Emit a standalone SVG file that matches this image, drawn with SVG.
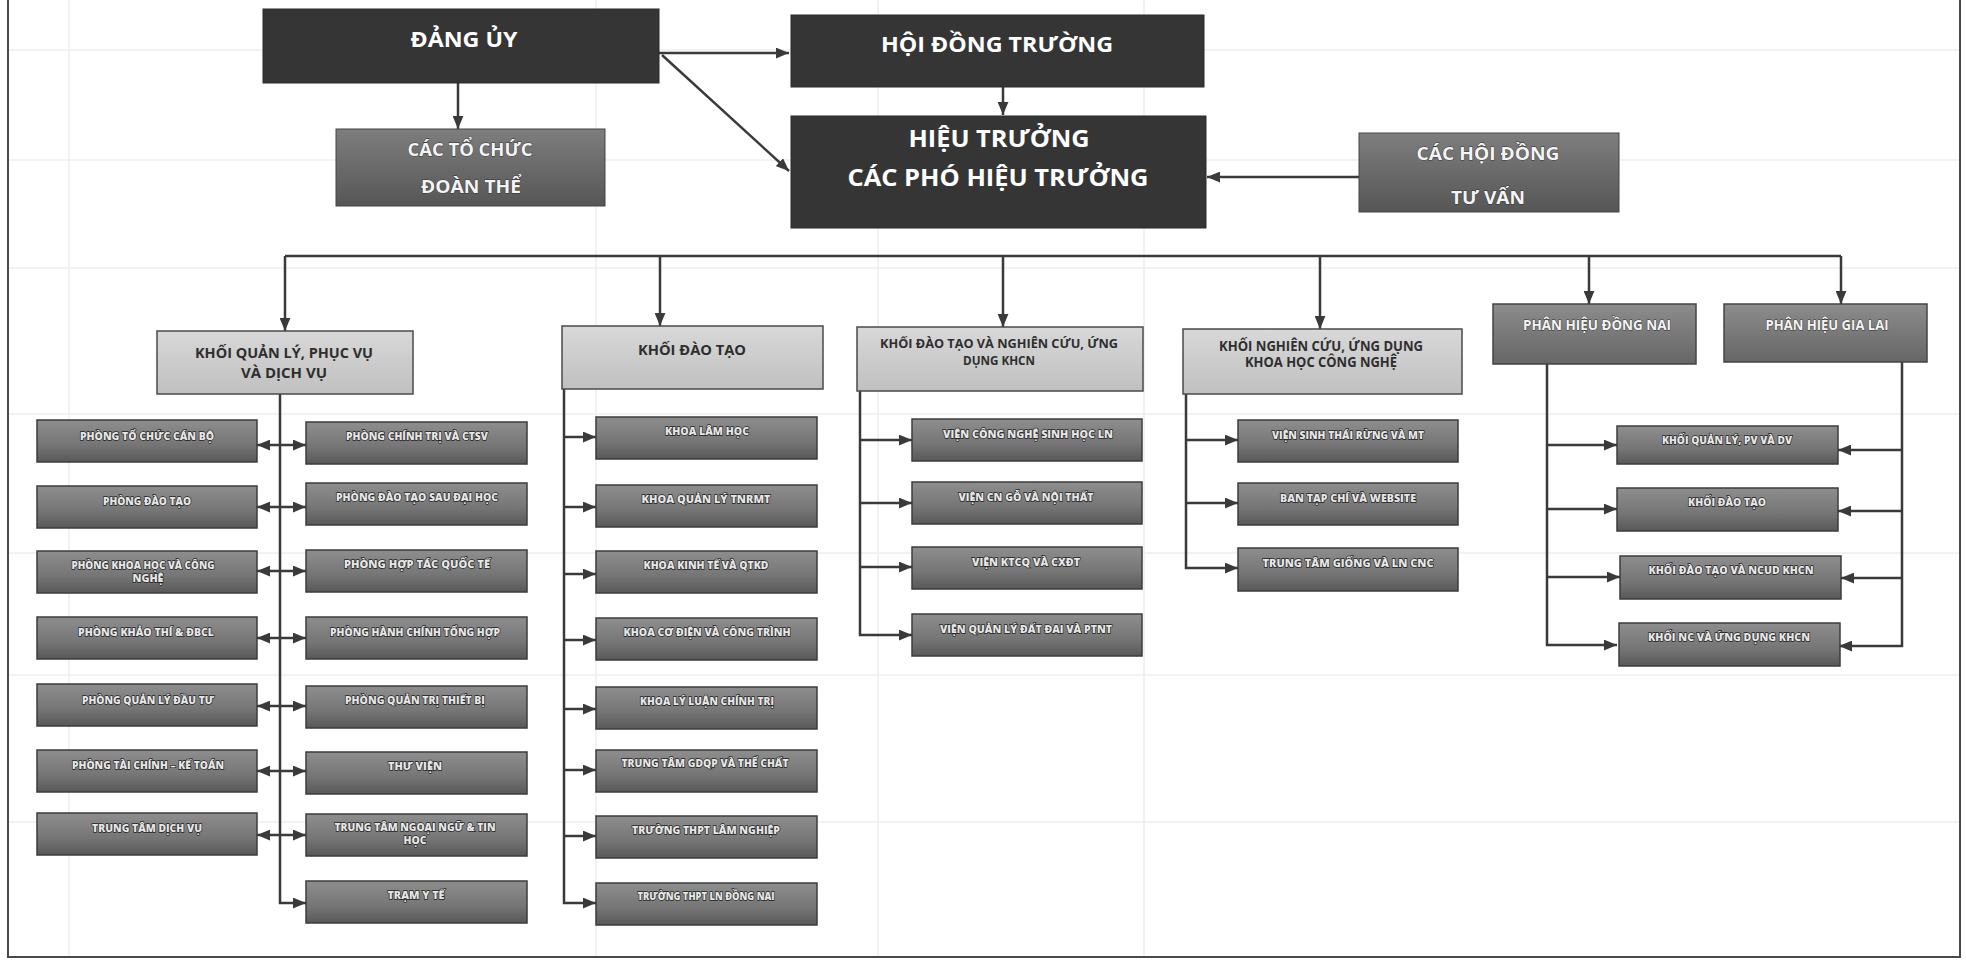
<svg xmlns="http://www.w3.org/2000/svg" width="1966" height="962" viewBox="0 0 1966 962">
<defs>
<linearGradient id="gSm" x1="0" y1="0" x2="0" y2="1"><stop offset="0" stop-color="#8e8e8e"/><stop offset="0.6" stop-color="#757575"/><stop offset="1" stop-color="#585858"/></linearGradient>
<linearGradient id="gMid" x1="0" y1="0" x2="0" y2="1"><stop offset="0" stop-color="#7e7e7e"/><stop offset="1" stop-color="#565656"/></linearGradient>
<linearGradient id="gHdr" x1="0" y1="0" x2="0" y2="1"><stop offset="0" stop-color="#d8d8d8"/><stop offset="1" stop-color="#c0c0c0"/></linearGradient>
<linearGradient id="gPh" x1="0" y1="0" x2="0" y2="1"><stop offset="0" stop-color="#8c8c8c"/><stop offset="1" stop-color="#666666"/></linearGradient>
<marker id="ah" viewBox="0 0 12 10" refX="12" refY="5" markerWidth="13" markerHeight="11" markerUnits="userSpaceOnUse" orient="auto-start-reverse"><path d="M0,0 L12,5 L0,10 z" fill="#3a3a3a"/></marker>
</defs>
<style>
text{font-family:"Open Sans","Noto Sans","Liberation Sans",sans-serif;font-weight:700;text-anchor:middle}
.dk{fill:#353535;stroke:#2a2a2a;stroke-width:1}
.md{fill:url(#gMid);stroke:#444;stroke-width:1}
.hd{fill:url(#gHdr);stroke:#4a4a4a;stroke-width:1.5}
.ph{fill:url(#gPh);stroke:#444;stroke-width:1.5}
.sm{fill:url(#gSm);stroke:#3c3c3c;stroke-width:1.5}
.tw{fill:#ffffff}
.tm{fill:#f4f4f4;stroke:#333;stroke-width:0.8;paint-order:stroke}
.th{fill:#2e2e2e}
.ts{fill:#e6e6e6;stroke:#222;stroke-width:1.4;paint-order:stroke;font-size:11px;font-weight:800}
.c{fill:none;stroke:#3a3a3a;stroke-width:2.5}
.a{marker-end:url(#ah)}
.aa{marker-start:url(#ah);marker-end:url(#ah)}
.bg{stroke:#eeeeee;stroke-width:1.5;fill:none}
.fr{stroke:#4a4a4a;stroke-width:2;fill:none}
</style>
<rect x="0" y="0" width="1966" height="962" fill="#ffffff"/>
<g id="background">
<path class="bg" d="M69,0 V957 M596,0 V957 M878,0 V957 M1144,0 V957 M8,50 H1960 M8,160 H1960 M8,268 H1960 M8,414 H1960 M8,553 H1960 M8,675 H1960 M8,822 H1960"/>
<path class="fr" d="M8,0 V957 H1960 V0"/>
</g>
<g id="connectors">
<path class="c a" d="M659,53 H789"/>
<path class="c a" d="M662,55 L789,171"/>
<path class="c a" d="M458,83 V129"/>
<path class="c a" d="M1003,87 V115"/>
<path class="c a" d="M1359,177 H1207"/>
<path class="c" d="M285,256 H1841"/>
<path class="c a" d="M285,256 V331"/>
<path class="c a" d="M660,256 V326"/>
<path class="c a" d="M1003,256 V327"/>
<path class="c a" d="M1320,256 V329"/>
<path class="c a" d="M1589,256 V304"/>
<path class="c a" d="M1841,256 V304"/>
<path class="c a" d="M280,394 V903 H306"/>
<path class="c aa" d="M257,445 H306"/>
<path class="c aa" d="M257,507 H306"/>
<path class="c aa" d="M257,571 H306"/>
<path class="c aa" d="M257,638 H306"/>
<path class="c aa" d="M257,706 H306"/>
<path class="c aa" d="M257,771 H306"/>
<path class="c aa" d="M257,835 H306"/>
<path class="c a" d="M564,389 V903 H596"/>
<path class="c a" d="M564,437 H596"/>
<path class="c a" d="M564,507 H596"/>
<path class="c a" d="M564,574 H596"/>
<path class="c a" d="M564,640 H596"/>
<path class="c a" d="M564,709 H596"/>
<path class="c a" d="M564,770 H596"/>
<path class="c a" d="M564,836 H596"/>
<path class="c a" d="M860,391 V635 H912"/>
<path class="c a" d="M860,440 H912"/>
<path class="c a" d="M860,503 H912"/>
<path class="c a" d="M860,567 H912"/>
<path class="c a" d="M1186,394 V568 H1238"/>
<path class="c a" d="M1186,440 H1238"/>
<path class="c a" d="M1186,503 H1238"/>
<path class="c a" d="M1547,364 V645 H1617"/>
<path class="c a" d="M1547,445 H1617"/>
<path class="c a" d="M1547,509 H1617"/>
<path class="c a" d="M1547,577 H1620"/>
<path class="c a" d="M1902,362 V646 H1839"/>
<path class="c a" d="M1902,450 H1838"/>
<path class="c a" d="M1902,511 H1838"/>
<path class="c a" d="M1902,578 H1841"/>
</g>
<g id="n-dang-uy"><rect class="dk" x="263" y="9" width="396" height="74"/><text class="tw" x="464" y="47" font-size="22" textLength="107" lengthAdjust="spacingAndGlyphs">ĐẢNG ỦY</text></g>
<g id="n-hoi-dong-truong"><rect class="dk" x="791" y="15" width="413" height="72"/><text class="tw" x="997" y="52" font-size="22" textLength="232" lengthAdjust="spacingAndGlyphs">HỘI ĐỒNG TRƯỜNG</text></g>
<g id="n-hieu-truong"><rect class="dk" x="791" y="116" width="415" height="112"/><text class="tw" x="999" y="147" font-size="24" textLength="181" lengthAdjust="spacingAndGlyphs">HIỆU TRƯỞNG</text><text class="tw" x="998" y="186" font-size="24" textLength="301" lengthAdjust="spacingAndGlyphs">CÁC PHÓ HIỆU TRƯỞNG</text></g>
<g id="n-to-chuc"><rect class="md" x="336" y="129" width="269" height="77"/><text class="tm" x="470" y="156" font-size="17" textLength="125" lengthAdjust="spacingAndGlyphs">CÁC TỔ CHỨC</text><text class="tm" x="471" y="193" font-size="17" textLength="100" lengthAdjust="spacingAndGlyphs">ĐOÀN THỂ</text></g>
<g id="n-hoi-dong-tu-van"><rect class="md" x="1359" y="133" width="260" height="79"/><text class="tm" x="1488" y="160" font-size="17" textLength="143" lengthAdjust="spacingAndGlyphs">CÁC HỘI ĐỒNG</text><text class="tm" x="1488" y="204" font-size="17" textLength="74" lengthAdjust="spacingAndGlyphs">TƯ VẤN</text></g>
<g id="n-khoi-ql"><rect class="hd" x="157" y="331" width="256" height="63"/><text class="th" x="284" y="358" font-size="14" textLength="178" lengthAdjust="spacingAndGlyphs">KHỐI QUẢN LÝ, PHỤC VỤ</text><text class="th" x="284" y="378" font-size="14" textLength="86" lengthAdjust="spacingAndGlyphs">VÀ DỊCH VỤ</text></g>
<g id="n-khoi-dt"><rect class="hd" x="562" y="326" width="261" height="63"/><text class="th" x="692" y="355" font-size="15" textLength="108" lengthAdjust="spacingAndGlyphs">KHỐI ĐÀO TẠO</text></g>
<g id="n-khoi-dtnc"><rect class="hd" x="857" y="327" width="286" height="64"/><text class="th" x="999" y="348" font-size="13" textLength="238" lengthAdjust="spacingAndGlyphs">KHỐI ĐÀO TẠO VÀ NGHIÊN CỨU, ỨNG</text><text class="th" x="999" y="365" font-size="13" textLength="72" lengthAdjust="spacingAndGlyphs">DỤNG KHCN</text></g>
<g id="n-khoi-nc"><rect class="hd" x="1183" y="329" width="279" height="65"/><text class="th" x="1321" y="351" font-size="13.5" textLength="204" lengthAdjust="spacingAndGlyphs">KHỐI NGHIÊN CỨU, ỨNG DỤNG</text><text class="th" x="1321" y="367" font-size="13.5" textLength="152" lengthAdjust="spacingAndGlyphs">KHOA HỌC CÔNG NGHỆ</text></g>
<g id="n-ph-dong-nai"><rect class="ph" x="1493" y="304" width="203" height="60"/><text class="tm" x="1597" y="330" font-size="13.5" textLength="148" lengthAdjust="spacingAndGlyphs">PHÂN HIỆU ĐỒNG NAI</text></g>
<g id="n-ph-gia-lai"><rect class="ph" x="1724" y="304" width="203" height="58"/><text class="tm" x="1827" y="330" font-size="13.5" textLength="123" lengthAdjust="spacingAndGlyphs">PHÂN HIỆU GIA LAI</text></g>
<g id="n-tccb"><rect class="sm" x="37" y="420" width="220" height="42"/><text class="ts" x="147" y="440" textLength="134" lengthAdjust="spacingAndGlyphs">PHÒNG TỔ CHỨC CÁN BỘ</text></g>
<g id="n-pdt"><rect class="sm" x="37" y="486" width="220" height="42"/><text class="ts" x="147" y="505" textLength="88" lengthAdjust="spacingAndGlyphs">PHÒNG ĐÀO TẠO</text></g>
<g id="n-khcn"><rect class="sm" x="37" y="551" width="220" height="42"/><text class="ts" x="143" y="569" textLength="143" lengthAdjust="spacingAndGlyphs">PHÒNG KHOA HỌC VÀ CÔNG</text><text class="ts" x="148" y="582" textLength="31" lengthAdjust="spacingAndGlyphs">NGHỆ</text></g>
<g id="n-khao-thi"><rect class="sm" x="37" y="617" width="220" height="42"/><text class="ts" x="146" y="636" textLength="136" lengthAdjust="spacingAndGlyphs">PHÒNG KHẢO THÍ &amp; ĐBCL</text></g>
<g id="n-qldt"><rect class="sm" x="37" y="684" width="220" height="42"/><text class="ts" x="148" y="704" textLength="132" lengthAdjust="spacingAndGlyphs">PHÒNG QUẢN LÝ ĐẦU TƯ</text></g>
<g id="n-tckt"><rect class="sm" x="37" y="750" width="220" height="42"/><text class="ts" x="148" y="769" textLength="152" lengthAdjust="spacingAndGlyphs">PHÒNG TÀI CHÍNH – KẾ TOÁN</text></g>
<g id="n-ttdv"><rect class="sm" x="37" y="813" width="220" height="42"/><text class="ts" x="147" y="832" textLength="110" lengthAdjust="spacingAndGlyphs">TRUNG TÂM DỊCH VỤ</text></g>
<g id="n-ctsv"><rect class="sm" x="306" y="422" width="221" height="42"/><text class="ts" x="417" y="440" textLength="142" lengthAdjust="spacingAndGlyphs">PHÒNG CHÍNH TRỊ VÀ CTSV</text></g>
<g id="n-sdh"><rect class="sm" x="306" y="483" width="221" height="42"/><text class="ts" x="417" y="501" textLength="162" lengthAdjust="spacingAndGlyphs">PHÒNG ĐÀO TẠO SAU ĐẠI HỌC</text></g>
<g id="n-htqt"><rect class="sm" x="306" y="550" width="221" height="42"/><text class="ts" x="417" y="568" textLength="146" lengthAdjust="spacingAndGlyphs">PHÒNG HỢP TÁC QUỐC TẾ</text></g>
<g id="n-hcth"><rect class="sm" x="306" y="617" width="221" height="42"/><text class="ts" x="415" y="636" textLength="170" lengthAdjust="spacingAndGlyphs">PHÒNG HÀNH CHÍNH TỔNG HỢP</text></g>
<g id="n-qttb"><rect class="sm" x="306" y="686" width="221" height="42"/><text class="ts" x="415" y="704" textLength="140" lengthAdjust="spacingAndGlyphs">PHÒNG QUẢN TRỊ THIẾT BỊ</text></g>
<g id="n-thu-vien"><rect class="sm" x="306" y="752" width="221" height="42"/><text class="ts" x="415" y="770" textLength="54" lengthAdjust="spacingAndGlyphs">THƯ VIỆN</text></g>
<g id="n-ttnn"><rect class="sm" x="306" y="814" width="221" height="42"/><text class="ts" x="415" y="831" textLength="161" lengthAdjust="spacingAndGlyphs">TRUNG TÂM NGOẠI NGỮ &amp; TIN</text><text class="ts" x="415" y="844" textLength="23" lengthAdjust="spacingAndGlyphs">HỌC</text></g>
<g id="n-tram-yte"><rect class="sm" x="306" y="881" width="221" height="42"/><text class="ts" x="416" y="899" textLength="57" lengthAdjust="spacingAndGlyphs">TRẠM Y TẾ</text></g>
<g id="n-lam-hoc"><rect class="sm" x="596" y="417" width="221" height="42"/><text class="ts" x="707" y="435" textLength="84" lengthAdjust="spacingAndGlyphs">KHOA LÂM HỌC</text></g>
<g id="n-tnrmt"><rect class="sm" x="596" y="485" width="221" height="42"/><text class="ts" x="706" y="503" textLength="129" lengthAdjust="spacingAndGlyphs">KHOA QUẢN LÝ TNRMT</text></g>
<g id="n-kinh-te"><rect class="sm" x="596" y="551" width="221" height="42"/><text class="ts" x="706" y="569" textLength="125" lengthAdjust="spacingAndGlyphs">KHOA KINH TẾ VÀ QTKD</text></g>
<g id="n-co-dien"><rect class="sm" x="596" y="618" width="221" height="42"/><text class="ts" x="707" y="636" textLength="167" lengthAdjust="spacingAndGlyphs">KHOA CƠ ĐIỆN VÀ CÔNG TRÌNH</text></g>
<g id="n-ly-luan"><rect class="sm" x="596" y="687" width="221" height="42"/><text class="ts" x="707" y="705" textLength="134" lengthAdjust="spacingAndGlyphs">KHOA LÝ LUẬN CHÍNH TRỊ</text></g>
<g id="n-gdqp"><rect class="sm" x="596" y="750" width="221" height="42"/><text class="ts" x="705" y="767" textLength="167" lengthAdjust="spacingAndGlyphs">TRUNG TÂM GDQP VÀ THỂ CHẤT</text></g>
<g id="n-thpt-ln"><rect class="sm" x="596" y="816" width="221" height="42"/><text class="ts" x="706" y="834" textLength="148" lengthAdjust="spacingAndGlyphs">TRƯỜNG THPT LÂM NGHIỆP</text></g>
<g id="n-thpt-dn"><rect class="sm" x="596" y="883" width="221" height="42"/><text class="ts" x="706" y="900" textLength="137" lengthAdjust="spacingAndGlyphs">TRƯỜNG THPT LN ĐỒNG NAI</text></g>
<g id="n-vien-snh"><rect class="sm" x="912" y="419" width="230" height="42"/><text class="ts" x="1028" y="438" textLength="170" lengthAdjust="spacingAndGlyphs">VIỆN CÔNG NGHỆ SINH HỌC LN</text></g>
<g id="n-vien-go"><rect class="sm" x="912" y="482" width="230" height="42"/><text class="ts" x="1026" y="501" textLength="135" lengthAdjust="spacingAndGlyphs">VIỆN CN GỖ VÀ NỘI THẤT</text></g>
<g id="n-vien-ktcq"><rect class="sm" x="912" y="547" width="230" height="42"/><text class="ts" x="1026" y="566" textLength="108" lengthAdjust="spacingAndGlyphs">VIỆN KTCQ VÀ CXĐT</text></g>
<g id="n-vien-qldd"><rect class="sm" x="912" y="614" width="230" height="42"/><text class="ts" x="1026" y="633" textLength="172" lengthAdjust="spacingAndGlyphs">VIỆN QUẢN LÝ ĐẤT ĐAI VÀ PTNT</text></g>
<g id="n-vien-str"><rect class="sm" x="1238" y="420" width="220" height="42"/><text class="ts" x="1348" y="439" textLength="152" lengthAdjust="spacingAndGlyphs">VIỆN SINH THÁI RỪNG VÀ MT</text></g>
<g id="n-tap-chi"><rect class="sm" x="1238" y="483" width="220" height="42"/><text class="ts" x="1348" y="502" textLength="136" lengthAdjust="spacingAndGlyphs">BAN TẠP CHÍ VÀ WEBSITE</text></g>
<g id="n-tt-giong"><rect class="sm" x="1238" y="548" width="220" height="43"/><text class="ts" x="1348" y="567" textLength="171" lengthAdjust="spacingAndGlyphs">TRUNG TÂM GIỐNG VÀ LN CNC</text></g>
<g id="n-ph-ql"><rect class="sm" x="1617" y="426" width="221" height="38"/><text class="ts" x="1727" y="444" textLength="130" lengthAdjust="spacingAndGlyphs">KHỐI QUẢN LÝ, PV VÀ DV</text></g>
<g id="n-ph-dt"><rect class="sm" x="1617" y="488" width="221" height="43"/><text class="ts" x="1727" y="506" textLength="78" lengthAdjust="spacingAndGlyphs">KHỐI ĐÀO TẠO</text></g>
<g id="n-ph-dtnc"><rect class="sm" x="1620" y="556" width="221" height="43"/><text class="ts" x="1731" y="574" textLength="165" lengthAdjust="spacingAndGlyphs">KHỐI ĐÀO TẠO VÀ NCUD KHCN</text></g>
<g id="n-ph-nc"><rect class="sm" x="1619" y="623" width="221" height="43"/><text class="ts" x="1729" y="641" textLength="162" lengthAdjust="spacingAndGlyphs">KHỐI NC VÀ ỨNG DỤNG KHCN</text></g>
</svg>
